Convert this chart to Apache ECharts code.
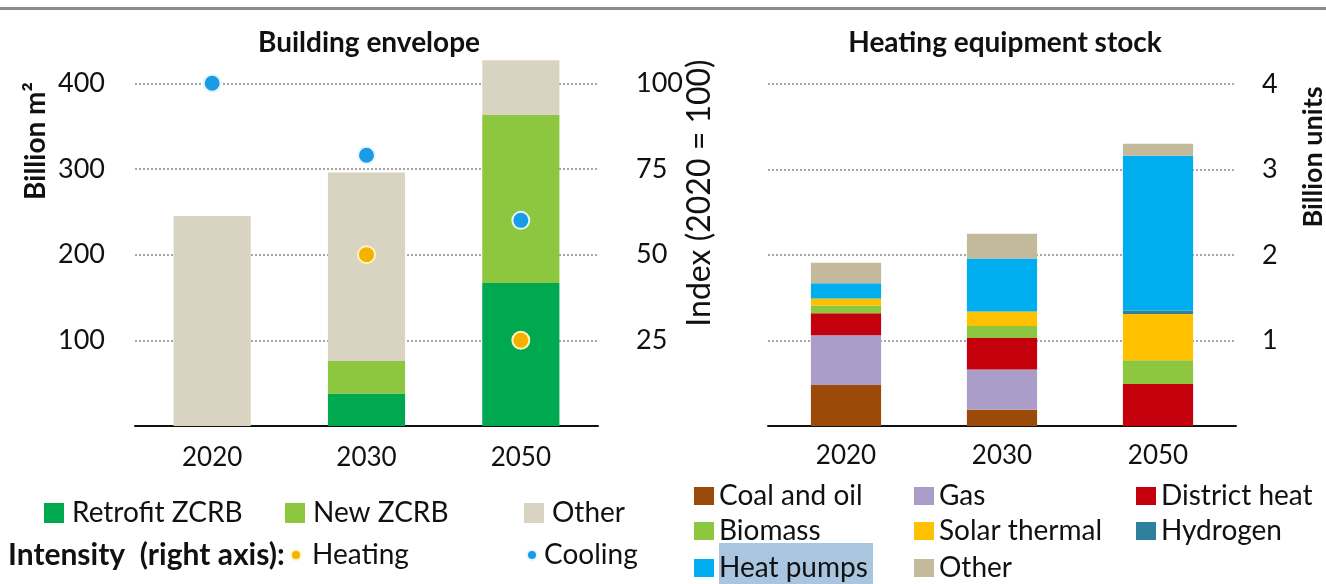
<!DOCTYPE html>
<html>
<head>
<meta charset="utf-8">
<title>Buildings</title>
<script src="https://cdn.jsdelivr.net/npm/echarts@6/dist/echarts.min.js"></script>
<style>
  html, body { margin: 0; padding: 0; background: #fff; }
  #chart { width: 1326px; height: 584px; }
</style>
</head>
<body>
<div id="chart"></div>
<script>
// categories
const years = ['2020', '2030', '2050']

// building envelope, billion m2
const retrofitZcrb = [0, 38, 167]
const newZcrb = [0, 38, 196]
const otherEnvelope = [245, 220, 64]

// intensity index (2020 = 100), right axis
const heatingIndex = [100, 50, 25]
const coolingIndex = [100, 79, 60]

// heating equipment stock, billion units
const coalOil = [0.48, 0.19, 0]
const gas = [0.58, 0.47, 0]
const districtHeat = [0.26, 0.37, 0.49]
const biomass = [0.09, 0.14, 0.28]
const solarThermal = [0.08, 0.17, 0.54]
const hydrogen = [0, 0, 0.04]
const heatPumps = [0.18, 0.62, 1.81]
const otherHeating = [0.24, 0.29, 0.14]

const FONT = 'Lato'
const TXT = '#111'

const myChart = echarts.init(document.getElementById('chart'))

const gridLine = {
  show: true,
  lineStyle: { color: '#8a8a8a', width: 1.5, type: [2, 2] }
}
const axisText = { color: TXT, fontFamily: FONT, fontSize: 27 }

function legendItem(name, left, top, icon, size, gap) {
  return {
    data: [name],
    left: left,
    top: top,
    padding: 0,
    icon: icon || 'rect',
    itemWidth: size || 20,
    itemHeight: size || 18,
    selectedMode: false,
    formatter: n => n.replace(' (heating)', ''),
    textStyle: {
      color: TXT,
      fontFamily: FONT,
      fontSize: 28,
      lineHeight: 30,
      padding: [0, 0, 0, gap || 0]
    }
  }
}

function stackBar(name, data, color) {
  return {
    name: name,
    type: 'bar',
    stack: 'heat',
    xAxisIndex: 1,
    yAxisIndex: 2,
    barWidth: '45%',
    itemStyle: { color: color },
    data: data
  }
}

const options = {
  backgroundColor: '#fff',
  animation: false,
  title: [
    {
      text: 'Building envelope',
      left: 364,
      top: 24,
      textAlign: 'center',
      textStyle: { color: TXT, fontFamily: FONT, fontSize: 28, fontWeight: 'bold' }
    },
    {
      text: 'Heating equipment stock',
      left: 1000,
      top: 24,
      textAlign: 'center',
      textStyle: { color: TXT, fontFamily: FONT, fontSize: 28, fontWeight: 'bold' }
    }
  ],
  grid: [
    { left: 135, right: 728, top: 49, bottom: 158 },
    { left: 768, right: 90, top: 84, bottom: 158 }
  ],
  xAxis: [
    {
      type: 'category',
      gridIndex: 0,
      data: years,
      axisLine: { lineStyle: { color: '#111', width: 2 } },
      axisTick: { show: false },
      axisLabel: Object.assign({ margin: 19 }, axisText, { fontSize: 26 })
    },
    {
      type: 'category',
      gridIndex: 1,
      data: years,
      axisLine: { lineStyle: { color: '#111', width: 2 } },
      axisTick: { show: false },
      axisLabel: Object.assign({ margin: 17 }, axisText, { fontSize: 26 })
    }
  ],
  yAxis: [
    {
      type: 'value',
      gridIndex: 0,
      min: 0,
      max: 440,
      interval: 100,
      axisLine: { show: false },
      axisTick: { show: false },
      axisLabel: Object.assign({ margin: 30, showMinLabel: false, showMaxLabel: false }, axisText),
      splitLine: Object.assign({ showMinLine: false, showMaxLine: false }, gridLine)
    },
    {
      type: 'value',
      gridIndex: 0,
      position: 'right',
      min: 0,
      max: 110,
      interval: 25,
      axisLine: { show: false },
      axisTick: { show: false },
      axisLabel: Object.assign({ margin: 38, showMinLabel: false, showMaxLabel: false }, axisText),
      splitLine: { show: false }
    },
    {
      type: 'value',
      gridIndex: 1,
      position: 'right',
      min: 0,
      max: 4,
      interval: 1,
      axisLine: { show: false },
      axisTick: { show: false },
      axisLabel: Object.assign({ margin: 26, showMinLabel: false }, axisText),
      splitLine: Object.assign({ showMinLine: false }, gridLine)
    }
  ],
  legend: [
    legendItem('Retrofit ZCRB', 44, 498, 'rect', 20, 3),
    legendItem('New ZCRB', 285, 498, 'rect', 20, 3),
    legendItem('Other', 524, 498, 'rect', 20, 3),
    legendItem('Heating', 290, 540, 'circle', 10, 6),
    legendItem('Cooling', 526, 540, 'circle', 10, 2),
    legendItem('Coal and oil', 694, 481),
    legendItem('Gas', 914, 481),
    legendItem('District heat', 1136, 481),
    legendItem('Biomass', 694, 516),
    legendItem('Solar thermal', 914, 516),
    legendItem('Hydrogen', 1136, 516),
    legendItem('Heat pumps', 694, 553),
    legendItem('Other (heating)', 914, 553)
  ],
  graphic: [
    {
      type: 'rect',
      shape: { x: 0, y: 7, width: 1326, height: 3 },
      style: { fill: '#8c8c8c' }
    },
    {
      type: 'rect',
      shape: { x: 719, y: 543, width: 154, height: 41 },
      style: { fill: '#a9c5df' },
      z: -1
    },
    {
      type: 'text',
      x: 8,
      y: 555,
      style: {
        text: 'Intensity  (right axis):',
        fill: TXT,
        font: 'bold 30px Lato',
        textVerticalAlign: 'middle'
      }
    },
    {
      type: 'text',
      x: 36,
      y: 141,
      rotation: Math.PI / 2,
      style: {
        text: 'Billion m²',
        fill: TXT,
        font: 'bold 28px Lato',
        textAlign: 'center',
        textVerticalAlign: 'middle'
      }
    },
    {
      type: 'text',
      x: 700,
      y: 193,
      rotation: Math.PI / 2,
      style: {
        text: 'Index (2020 = 100)',
        fill: TXT,
        font: '32px Lato',
        textAlign: 'center',
        textVerticalAlign: 'middle'
      }
    },
    {
      type: 'text',
      x: 1313,
      y: 157,
      rotation: Math.PI / 2,
      style: {
        text: 'Billion units',
        fill: TXT,
        font: 'bold 27px Lato',
        textAlign: 'center',
        textVerticalAlign: 'middle'
      }
    }
  ],
  series: [
    {
      name: 'Retrofit ZCRB',
      type: 'bar',
      stack: 'env',
      barWidth: '50%',
      itemStyle: { color: '#00a84f' },
      data: retrofitZcrb
    },
    {
      name: 'New ZCRB',
      type: 'bar',
      stack: 'env',
      itemStyle: { color: '#8dc63f' },
      data: newZcrb
    },
    {
      name: 'Other',
      type: 'bar',
      stack: 'env',
      itemStyle: { color: '#d9d4c2' },
      data: otherEnvelope
    },
    {
      name: 'Heating',
      type: 'scatter',
      yAxisIndex: 1,
      symbolSize: 17,
      z: 5,
      itemStyle: { color: '#f5b000', borderColor: '#fff7b8', borderWidth: 2, opacity: 1 },
      data: heatingIndex
    },
    {
      name: 'Cooling',
      type: 'scatter',
      yAxisIndex: 1,
      symbolSize: 17,
      z: 6,
      itemStyle: { color: '#1a9be6', borderColor: '#e6f6ff', borderWidth: 2, opacity: 1 },
      data: coolingIndex
    },
    stackBar('Coal and oil', coalOil, '#9c4a08'),
    stackBar('Gas', gas, '#aa9dc8'),
    stackBar('District heat', districtHeat, '#c4000c'),
    stackBar('Biomass', biomass, '#8dc63f'),
    stackBar('Solar thermal', solarThermal, '#ffc000'),
    stackBar('Hydrogen', hydrogen, '#2f7f9e'),
    stackBar('Heat pumps', heatPumps, '#00aeef'),
    stackBar('Other (heating)', otherHeating, '#c3b99b')
  ]
}
myChart.setOption(options)
</script>
</body>
</html>
